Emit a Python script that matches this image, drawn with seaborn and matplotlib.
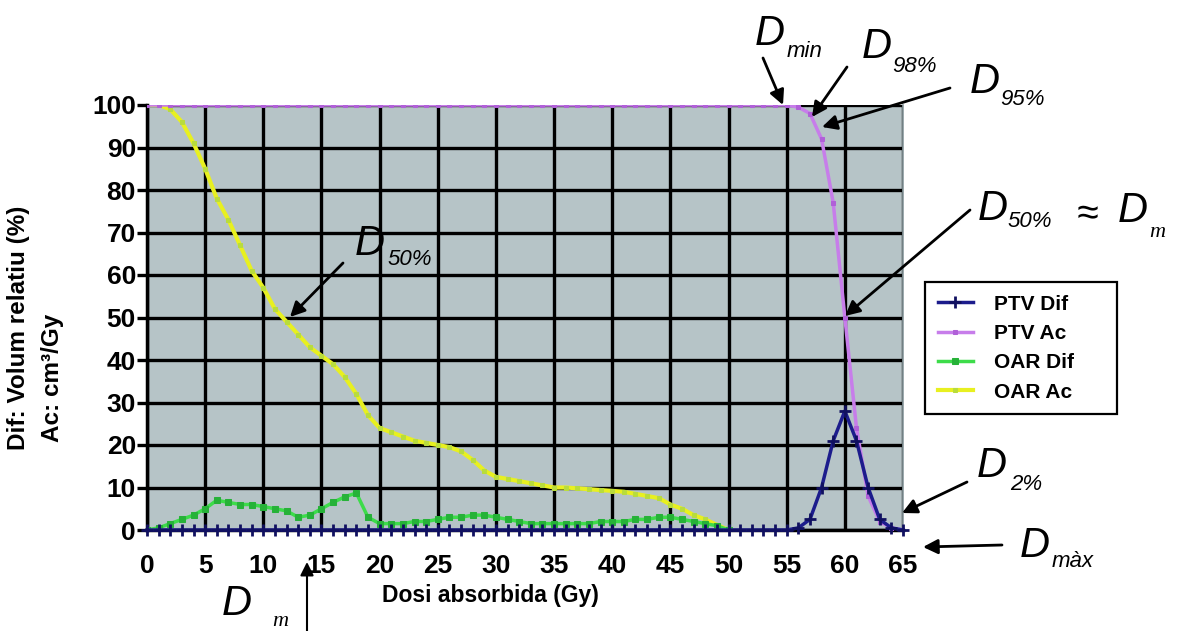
import matplotlib
matplotlib.use("Agg")
import matplotlib.pyplot as plt
import seaborn as sns
import pandas as pd

# ---------------- data ----------------
dose_ptv = list(range(0, 66))
dose_oar = list(range(0, 51))

ptv_dif = [0, 0, 0, 0, 0, 0, 0, 0, 0, 0,
           0, 0, 0, 0, 0, 0, 0, 0, 0, 0,
           0, 0, 0, 0, 0, 0, 0, 0, 0, 0,
           0, 0, 0, 0, 0, 0, 0, 0, 0, 0,
           0, 0, 0, 0, 0, 0, 0, 0, 0, 0,
           0, 0, 0, 0, 0, 0, 0.5, 2.5, 10, 21,
           28, 21, 10, 2.5, 0.5, 0]

ptv_ac = [100, 100, 100, 100, 100, 100, 100, 100, 100, 100,
          100, 100, 100, 100, 100, 100, 100, 100, 100, 100,
          100, 100, 100, 100, 100, 100, 100, 100, 100, 100,
          100, 100, 100, 100, 100, 100, 100, 100, 100, 100,
          100, 100, 100, 100, 100, 100, 100, 100, 100, 100,
          100, 100, 100, 100, 100, 100, 99.5, 98, 92, 77,
          50, 24, 8, 2, 0.5, 0]

oar_dif = [0, 0.5, 1.5, 2.5, 3.5, 5, 7, 6.5, 6, 6,
           5.5, 5, 4.5, 3, 3.5, 5, 6.5, 7.8, 8.7, 3,
           1.5, 1.5, 1.5, 2, 2, 2.5, 3, 3, 3.5, 3.5,
           3, 2.5, 2, 1.5, 1.5, 1.5, 1.5, 1.5, 1.5, 2,
           2, 2, 2.5, 2.5, 3, 3, 2.5, 2, 1.5, 1,
           0]

oar_ac = [100, 100, 99, 96, 91, 85, 78, 73, 67, 61,
          57, 52, 49, 46, 43, 41, 39, 36, 32, 27,
          24, 23, 22, 21, 20.5, 20, 19.5, 18.5, 16.5, 14,
          12.5, 12, 11.5, 11, 10.5, 10, 10, 9.8, 9.6, 9.4,
          9.2, 9, 8.5, 8, 7.5, 6, 5, 3.5, 2.5, 1.2,
          0]

series_names = ["PTV Dif", "PTV Ac", "OAR Dif", "OAR Ac"]
x_ticks = list(range(0, 70, 5))
y_ticks = list(range(0, 110, 10))
x_label = "Dosi absorbida (Gy)"
y_label_1 = "Dif: Volum relatiu (%)"
y_label_2 = "Ac: cm³/Gy"

df_ptv_dif = pd.DataFrame({"dose": dose_ptv, "value": ptv_dif})
df_ptv_ac = pd.DataFrame({"dose": dose_ptv, "value": ptv_ac})
df_oar_dif = pd.DataFrame({"dose": dose_oar, "value": oar_dif})
df_oar_ac = pd.DataFrame({"dose": dose_oar, "value": oar_ac})

# ---------------- figure ----------------
W, H = 1177, 631
fig = plt.figure(figsize=(W / 100, H / 100), dpi=100)
fig.patch.set_facecolor("white")

def P(x, y):
    return (x / W, 1 - y / H)

x0, x1 = 147, 903
y0, y1 = 530, 105
ax = fig.add_axes([x0 / W, 1 - y0 / H, (x1 - x0) / W, (y0 - y1) / H])
ax.set_facecolor("#b6c4c7")

BOLD = dict(family=["Liberation Sans", "DejaVu Sans"], weight="bold")

sns.lineplot(data=df_oar_ac, x="dose", y="value", ax=ax, color="#e8f020", lw=3,
             marker="s", markersize=3.5, markerfacecolor="#b9dc3c",
             markeredgecolor="#b9dc3c", label=series_names[3], sort=False, zorder=4)
sns.lineplot(data=df_oar_dif, x="dose", y="value", ax=ax, color="#3ddc4a", lw=2.5,
             marker="s", markersize=4, markerfacecolor="#26b238",
             markeredgecolor="#26b238", label=series_names[2], sort=False, zorder=4)
sns.lineplot(data=df_ptv_ac, x="dose", y="value", ax=ax, color="#c77dea", lw=2.5,
             marker="s", markersize=3, markerfacecolor="#b060d8",
             markeredgecolor="#b060d8", label=series_names[1], sort=False, zorder=5)
sns.lineplot(data=df_ptv_dif, x="dose", y="value", ax=ax, color="#1c1c8c", lw=2.5,
             marker="+", markersize=9, markeredgewidth=2.0,
             markeredgecolor="#101060", label=series_names[0], sort=False,
             zorder=6, clip_on=False)

ax.set_xlim(0, 65)
ax.set_ylim(0, 100)
ax.set_xticks(x_ticks)
ax.set_yticks(y_ticks)
ax.grid(True, color="black", lw=2.4)
ax.set_axisbelow(True)
ax.set_xlabel("")
ax.set_ylabel("")

for s in ["left", "bottom"]:
    ax.spines[s].set_color("black")
    ax.spines[s].set_linewidth(2.5)
ax.spines["top"].set_visible(False)
ax.spines["right"].set_color("#8a9a9e")
ax.spines["right"].set_linewidth(1.2)

ax.tick_params(axis="y", direction="out", length=7, width=2.4, pad=1,
               color="black")
ax.tick_params(axis="x", length=0, pad=17)
for lab in ax.get_xticklabels() + ax.get_yticklabels():
    lab.set_fontsize(19)
    lab.set_fontweight("bold")
    lab.set_family(["Liberation Sans", "DejaVu Sans"])

# axis labels
fig.text(*P(490, 602), x_label, ha="center", va="baseline", fontsize=16.5, **BOLD)
fig.text(*P(19, 328), y_label_1, ha="center", va="center", rotation=90,
         fontsize=17.5, **BOLD)
fig.text(*P(53, 378), y_label_2, ha="center", va="center", rotation=90,
         fontsize=17.5, **BOLD)

# legend
handles, labels = ax.get_legend_handles_labels()
order = [labels.index(n) for n in series_names]
leg = ax.legend([handles[i] for i in order], [labels[i] for i in order],
                loc="upper left",
                bbox_to_anchor=(925 / W, 1 - 413 / H, 192 / W, 131 / H),
                bbox_transform=fig.transFigure, mode="expand",
                frameon=True, fancybox=False,
                prop=dict(family=["Liberation Sans", "DejaVu Sans"],
                          weight="bold", size=15),
                handlelength=1.7, handletextpad=1.0, labelspacing=0.5,
                borderpad=0.6, borderaxespad=0)
leg.get_frame().set_edgecolor("black")
leg.get_frame().set_linewidth(1.6)
leg.get_frame().set_facecolor("white")
leg.get_frame().set_alpha(1)

# ---------------- annotations ----------------
ITAL = ["Liberation Sans", "DejaVu Sans"]
SERIF = ["Liberation Serif", "DejaVu Serif"]

def label(parts):
    for txt, x, y, size, fam in parts:
        fig.text(*P(x, y), txt, ha="left", va="baseline", fontsize=size,
                 family=fam, style="italic", color="black")

DS, SS = 30, 16
label([("D", 755, 45, DS, ITAL), ("min", 787, 57, SS, ITAL)])
label([("D", 862, 58, DS, ITAL), ("98%", 892, 72, SS, ITAL)])
label([("D", 970, 93, DS, ITAL), ("95%", 1000, 105, SS, ITAL)])
label([("D", 978, 220, DS, ITAL), ("50%", 1008, 227, SS, ITAL),
       ("≈", 1077, 224, 28, ITAL), ("D", 1118, 222, DS, ITAL),
       ("m", 1149, 237, SS, SERIF)])
label([("D", 355, 255, DS, ITAL), ("50%", 388, 265, SS, ITAL)])
label([("D", 977, 477, DS, ITAL), ("2%", 1010, 490, SS, ITAL)])
label([("D", 1020, 557, DS, ITAL), ("màx", 1052, 567, SS, ITAL)])
label([("D", 222, 615, DS, ITAL), ("m", 272, 626, SS, SERIF)])

def arrow(xs, ys, xe, ye, lw=2.0, ms=22):
    fig.add_artist(matplotlib.patches.FancyArrowPatch(
        P(xs, ys), P(xe, ye), transform=fig.transFigure,
        arrowstyle="-|>", mutation_scale=ms, lw=lw, color="black",
        shrinkA=0, shrinkB=0, zorder=10))

arrow(763, 58, 783, 105)
arrow(847, 67, 812, 117)
arrow(950, 88, 822, 127)
arrow(970, 210, 845, 316)
arrow(343, 263, 290, 317)
arrow(967, 482, 902, 513)
arrow(1002, 545, 923, 547)
arrow(307, 631, 307, 562, lw=1.5, ms=20)

fig.savefig("out.png", dpi=100, facecolor="white")
